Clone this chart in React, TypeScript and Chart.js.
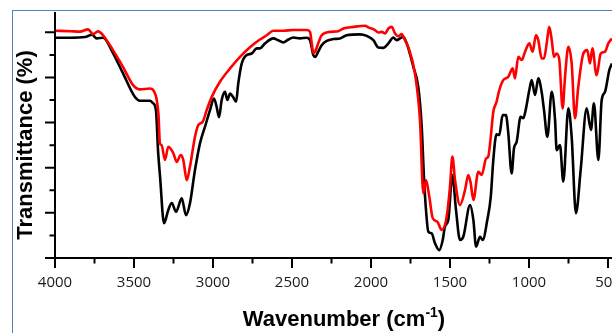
import React, { useEffect, useRef } from "react";
import { Chart, registerables } from "chart.js";

Chart.register(...registerables);

// Black spectrum (wavenumber, transmittance)
const blackWn = [
  4000, 3905, 3810, 3766, 3736, 3696, 3633, 3570, 3494, 3462,
  3399, 3380, 3361, 3348, 3335, 3310, 3283, 3261, 3234, 3198,
  3171, 3146, 3114, 3082, 3051, 3019, 2994, 2977, 2962, 2945,
  2924, 2909, 2892, 2872, 2854, 2840, 2818, 2787, 2755, 2723,
  2703, 2671, 2618, 2587, 2555, 2523, 2492, 2449, 2407, 2386,
  2365, 2354, 2334, 2312, 2280, 2239, 2196, 2154, 2070, 2027,
  1985, 1954, 1922, 1890, 1859, 1837, 1816, 1796, 1774, 1732,
  1701, 1679, 1665, 1652, 1637, 1616, 1595, 1568, 1546, 1532,
  1511, 1485, 1462, 1437, 1416, 1373, 1352, 1335, 1310, 1293,
  1264, 1242, 1226, 1206, 1188, 1167, 1146, 1131, 1110, 1095,
  1078, 1053, 1036, 1019, 998, 983, 962, 941, 920, 905,
  884, 856, 835, 825, 804, 783, 751, 730, 703, 673,
  635, 608, 589, 561, 540, 519, 492, 475,
];
const blackT = [
  97.6, 97.6, 97.9, 98.9, 97.3, 97.6, 90.8, 81.9, 71.3, 69.7,
  69.7, 68.6, 65.5, 47.8, 35.9, 15.4, 21.3, 24.4, 20.5, 26.4,
  19.0, 24.2, 39.0, 50.9, 58.1, 65.5, 70.7, 67.0, 62.4, 70.0,
  73.6, 70.0, 72.9, 71.2, 69.2, 77.4, 86.2, 89.9, 90.6, 92.9,
  92.9, 95.1, 97.3, 96.5, 95.5, 96.8, 97.7, 97.3, 97.6, 96.5,
  89.9, 89.1, 91.4, 94.3, 96.2, 97.0, 97.3, 98.7, 99.1, 98.4,
  96.5, 93.3, 93.1, 95.1, 97.7, 96.5, 97.3, 98.0, 95.1, 84.7,
  75.9, 58.1, 36.0, 21.3, 11.6, 10.9, 6.5, 3.5, 8.0, 13.9,
  16.8, 36.8, 21.3, 8.0, 9.4, 23.5, 16.8, 5.0, 9.4, 8.0,
  16.8, 27.1, 43.4, 54.8, 54.5, 63.3, 63.3, 55.2, 37.5, 48.6,
  51.5, 62.6, 61.9, 66.3, 74.4, 78.8, 72.2, 79.6, 73.6, 65.5,
  53.7, 73.6, 61.1, 47.8, 50.0, 33.8, 66.3, 53.7, 19.8, 39.0,
  66.3, 56.7, 68.5, 43.4, 70.0, 73.6, 83.2, 86.2,
];

// Red spectrum (wavenumber, transmittance)
const redWn = [
  4000, 3905, 3842, 3791, 3759, 3728, 3696, 3633, 3570, 3506,
  3462, 3399, 3378, 3356, 3345, 3336, 3325, 3304, 3283, 3251,
  3230, 3204, 3188, 3166, 3146, 3114, 3093, 3065, 3040, 3008,
  2956, 2892, 2829, 2766, 2703, 2660, 2618, 2555, 2492, 2407,
  2386, 2375, 2365, 2354, 2334, 2312, 2259, 2207, 2175, 2112,
  2038, 2017, 1975, 1954, 1932, 1911, 1890, 1869, 1848, 1827,
  1806, 1785, 1764, 1722, 1690, 1669, 1652, 1631, 1609, 1580,
  1553, 1521, 1500, 1485, 1468, 1437, 1405, 1384, 1369, 1352,
  1321, 1299, 1272, 1258, 1244, 1226, 1206, 1188, 1163, 1131,
  1103, 1089, 1068, 1046, 1025, 998, 977, 956, 941, 920,
  905, 888, 872, 856, 842, 825, 808, 787, 772, 751,
  730, 709, 688, 656, 631, 614, 599, 572, 546, 519,
  498, 475,
];
const redT = [
  100.7, 100.5, 100.3, 101.3, 99.2, 100.4, 98.7, 92.1, 84.7, 76.6,
  74.7, 75.1, 74.4, 70.0, 63.3, 50.8, 50.0, 43.4, 49.3, 46.4,
  42.6, 45.6, 43.4, 34.5, 40.4, 53.7, 58.9, 60.4, 65.5, 71.4,
  78.1, 84.0, 89.1, 93.4, 96.8, 98.7, 100.7, 100.7, 101.0, 101.0,
  100.2, 95.1, 90.9, 91.4, 95.1, 98.7, 100.2, 100.5, 101.7, 102.4,
  102.9, 102.2, 101.0, 99.9, 100.2, 99.5, 101.7, 102.4, 99.5, 98.3,
  99.2, 96.5, 93.4, 81.8, 61.1, 28.6, 34.5, 27.1, 17.6, 16.1,
  12.4, 18.3, 31.6, 44.9, 34.5, 23.5, 30.1, 36.8, 33.1, 25.7,
  38.2, 36.8, 44.1, 44.9, 52.3, 64.7, 69.1, 74.4, 78.8, 80.3,
  84.0, 79.6, 89.1, 87.7, 91.4, 95.1, 91.4, 98.7, 96.5, 88.4,
  88.4, 95.1, 102.4, 96.5, 89.1, 90.6, 87.7, 66.3, 80.3, 93.6,
  86.2, 61.9, 75.9, 90.6, 92.1, 86.2, 92.9, 81.0, 90.6, 91.4,
  95.1, 97.3,
];

const xMajorTicks = [4000, 3500, 3000, 2500, 2000, 1500, 1000, 500];
const xMinorTicks = [3750, 3250, 2750, 2250, 1750, 1250, 750];
const yMajorTicks = [0, 20, 40, 60, 80, 100];
const yMinorTicks = [10, 30, 50, 70, 90];

const X_MIN = 474.7;
const X_MAX = 4000;
const Y_MIN = 0;
const Y_MAX = 109;

const axesPlugin = {
  id: "ftirAxes",
  afterDraw(chart: any) {
    const { ctx, chartArea, scales } = chart;
    const xs = scales.x;
    const ys = scales.y;
    const left = chartArea.left;
    const bottom = chartArea.bottom;
    ctx.save();
    ctx.strokeStyle = "#000";
    ctx.lineWidth = 2;
    ctx.lineCap = "butt";
    ctx.beginPath();
    ctx.moveTo(left, chartArea.top);
    ctx.lineTo(left, bottom + 1);
    ctx.moveTo(left - 1, bottom);
    ctx.lineTo(chartArea.right, bottom);
    ctx.stroke();
    ctx.beginPath();
    yMajorTicks.forEach((v) => {
      const p = ys.getPixelForValue(v);
      ctx.moveTo(left - 10, p);
      ctx.lineTo(left, p);
    });
    yMinorTicks.forEach((v) => {
      const p = ys.getPixelForValue(v);
      ctx.moveTo(left - 5.5, p);
      ctx.lineTo(left, p);
    });
    xMajorTicks.forEach((v) => {
      const p = xs.getPixelForValue(v);
      ctx.moveTo(p, bottom);
      ctx.lineTo(p, bottom + 10);
    });
    xMinorTicks.forEach((v) => {
      const p = xs.getPixelForValue(v);
      ctx.moveTo(p, bottom);
      ctx.lineTo(p, bottom + 5.5);
    });
    ctx.stroke();

    ctx.fillStyle = "#000";
    ctx.textBaseline = "alphabetic";
    ctx.save();
    ctx.translate(32, 145);
    ctx.rotate(-Math.PI / 2);
    ctx.textAlign = "center";
    ctx.font = "bold 22px 'Liberation Sans', Arial, sans-serif";
    ctx.fillText("Transmittance (%)", 0, 0);
    ctx.restore();

    const main = "Wavenumber (cm";
    const sup = "-1";
    const close = ")";
    const bigFont = "bold 22px 'Liberation Sans', Arial, sans-serif";
    const supFont = "bold 14px 'Liberation Sans', Arial, sans-serif";
    ctx.font = bigFont;
    const wMain = ctx.measureText(main).width;
    const wClose = ctx.measureText(close).width;
    ctx.font = supFont;
    const wSup = ctx.measureText(sup).width;
    const total = wMain + wSup + wClose;
    let x = 344 - total / 2;
    const baseY = 326;
    ctx.textAlign = "left";
    ctx.font = bigFont;
    ctx.fillText(main, x, baseY);
    x += wMain;
    ctx.font = supFont;
    ctx.fillText(sup, x, baseY - 9);
    x += wSup;
    ctx.font = bigFont;
    ctx.fillText(close, x, baseY);
    ctx.restore();
  },
};

export default function App() {
  const canvasRef = useRef<HTMLCanvasElement | null>(null);

  useEffect(() => {
    document.body.style.margin = "0";
    const canvas = canvasRef.current;
    if (!canvas) return;
    const chart = new Chart(canvas, {
      type: "line",
      data: {
        datasets: [
          {
            label: "red",
            data: redWn.map((w, i) => ({ x: w, y: redT[i] })),
            borderColor: "#ff0000",
            borderWidth: 2.6,
            pointRadius: 0,
            fill: false,
            cubicInterpolationMode: "monotone",
            borderJoinStyle: "round",
            order: 0,
          },
          {
            label: "black",
            data: blackWn.map((w, i) => ({ x: w, y: blackT[i] })),
            borderColor: "#000000",
            borderWidth: 2.6,
            pointRadius: 0,
            fill: false,
            cubicInterpolationMode: "monotone",
            borderJoinStyle: "round",
            order: 1,
          },
        ],
      },
      options: {
        animation: false,
        responsive: false,
        maintainAspectRatio: false,
        layout: { padding: { left: 0, top: 12, right: 0, bottom: 0 } },
        plugins: {
          legend: { display: false },
          tooltip: { enabled: false },
          title: { display: false },
        },
        scales: {
          x: {
            type: "linear",
            reverse: true,
            min: X_MIN,
            max: X_MAX,
            grid: { display: false, drawTicks: false },
            border: { display: false },
            ticks: {
              autoSkip: false,
              maxRotation: 0,
              padding: 16,
              color: "#1a1a1a",
              font: { family: "'Open Sans', sans-serif", size: 15 },
              callback: (v: any) => String(v),
            },
            afterBuildTicks: (s: any) => {
              s.ticks = xMajorTicks.map((v) => ({ value: v }));
            },
            afterFit: (s: any) => {
              s.height = 75;
              s.paddingLeft = 0;
              s.paddingRight = 0;
            },
          },
          y: {
            type: "linear",
            min: Y_MIN,
            max: Y_MAX,
            grid: { display: false, drawTicks: false },
            border: { display: false },
            ticks: { display: false },
            afterFit: (s: any) => {
              s.width = 55;
              s.paddingTop = 0;
              s.paddingBottom = 0;
            },
          },
        },
      },
      plugins: [axesPlugin],
    } as any);
    return () => chart.destroy();
  }, []);

  return (
    <div
      style={{
        position: "relative",
        width: 612,
        height: 333,
        overflow: "hidden",
        background: "#fff",
      }}
    >
      <div
        style={{
          position: "absolute",
          left: 12,
          top: 10,
          width: 800,
          height: 500,
          borderLeft: "1.5px solid #4f81bd",
          borderTop: "1.5px solid #4f81bd",
        }}
      />
      <canvas
        ref={canvasRef}
        width={612}
        height={333}
        style={{ position: "absolute", left: 0, top: 0, display: "block" }}
      />
    </div>
  );
}
